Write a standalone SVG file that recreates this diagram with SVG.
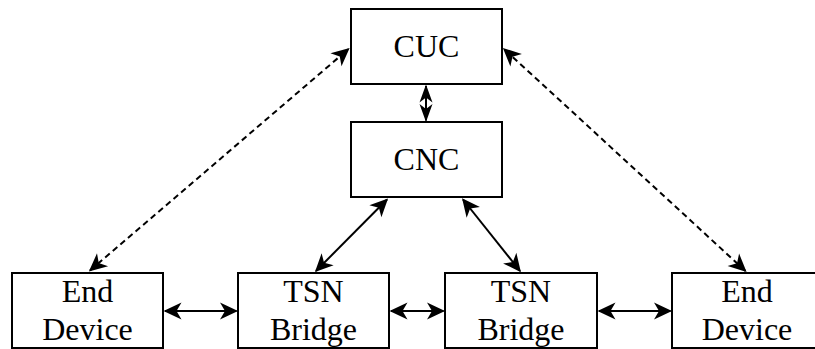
<svg xmlns="http://www.w3.org/2000/svg" width="815" height="349" viewBox="0 0 815 349">
<style>
.box{fill:#fff;stroke:#000;stroke-width:2}
text{font-size:32px;fill:#000;text-anchor:middle}
.ln{stroke:#000;stroke-width:2;fill:none}
.dash{stroke-dasharray:6 4}
</style>
<defs>
<marker id="ah" markerUnits="userSpaceOnUse" refX="16.5" refY="9" markerWidth="20" markerHeight="18" orient="auto-start-reverse" overflow="visible">
<path d="M18,9 L0,0.5 L5,9 L0,17.5 Z" fill="#000"/>
</marker>
<marker id="ahs" markerUnits="userSpaceOnUse" refX="16.5" refY="9" markerWidth="20" markerHeight="18" orient="auto-start-reverse" overflow="visible">
<path d="M18,9 L0,2.5 L5,9 L0,15.5 Z" fill="#000"/>
</marker>
</defs>
<g id="connectors">
<line class="ln" x1="426" y1="86" x2="426" y2="120.5" marker-start="url(#ahs)" marker-end="url(#ahs)"/>
<line class="ln dash" x1="90" y1="270.5" x2="348.5" y2="49" marker-start="url(#ah)" marker-end="url(#ah)"/>
<line class="ln dash" x1="745.5" y1="271" x2="504" y2="49" marker-start="url(#ah)" marker-end="url(#ah)"/>
<line class="ln" x1="316" y1="271" x2="387" y2="199.5" marker-start="url(#ah)" marker-end="url(#ah)"/>
<line class="ln" x1="520" y1="271" x2="463" y2="199.5" marker-start="url(#ah)" marker-end="url(#ah)"/>
<line class="ln" x1="165" y1="311" x2="236.5" y2="311" marker-start="url(#ah)" marker-end="url(#ah)"/>
<line class="ln" x1="391" y1="311" x2="443.5" y2="311" marker-start="url(#ah)" marker-end="url(#ah)"/>
<line class="ln" x1="599" y1="311" x2="670.5" y2="311" marker-start="url(#ah)" marker-end="url(#ah)"/>
</g>
<g id="cuc">
<rect class="box" x="351" y="9" width="151" height="75"/>
<text x="426.5" y="57" font-family="Liberation Serif">CUC</text>
</g>
<g id="cnc">
<rect class="box" x="351" y="122" width="151" height="75"/>
<text x="426.5" y="170" font-family="Liberation Serif">CNC</text>
</g>
<g id="end-device-left">
<rect class="box" x="12" y="273" width="151" height="75"/>
<text x="87.5" y="302" font-family="Liberation Serif">End</text>
<text x="87.5" y="340" font-family="Liberation Serif">Device</text>
</g>
<g id="tsn-bridge-1">
<rect class="box" x="238" y="273" width="151" height="75"/>
<text x="313.5" y="302" font-family="Liberation Serif">TSN</text>
<text x="313.5" y="340" font-family="Liberation Serif">Bridge</text>
</g>
<g id="tsn-bridge-2">
<rect class="box" x="445" y="273" width="152" height="75"/>
<text x="521" y="302" font-family="Liberation Serif">TSN</text>
<text x="521" y="340" font-family="Liberation Serif">Bridge</text>
</g>
<g id="end-device-right">
<rect class="box" x="672" y="273" width="151" height="75"/>
<text x="747" y="302" font-family="Liberation Serif">End</text>
<text x="747" y="340" font-family="Liberation Serif">Device</text>
</g>
</svg>
